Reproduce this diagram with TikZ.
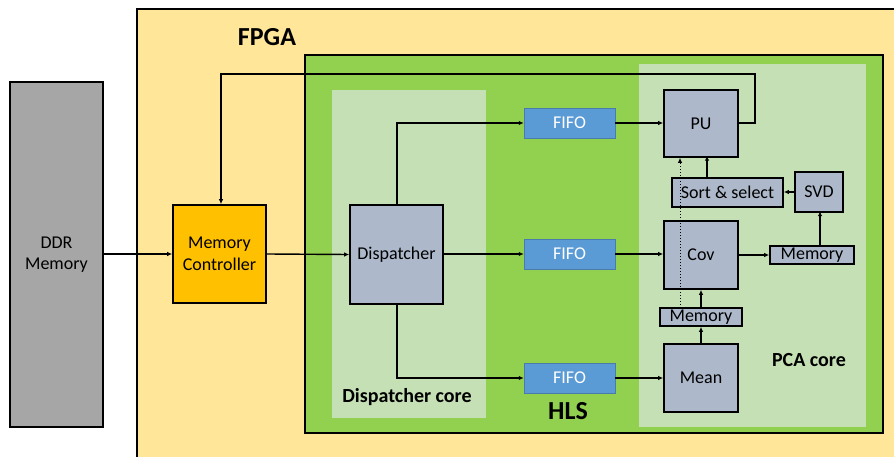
\documentclass[tikz,border=0pt]{standalone}
\usepackage{fontspec}
\setmainfont{Carlito}
\usetikzlibrary{arrows.meta}
\definecolor{fpgay}{HTML}{FFE699}
\definecolor{hlsg}{HTML}{92D050}
\definecolor{lightg}{HTML}{C5E0B4}
\definecolor{blk}{HTML}{ADB9CA}
\definecolor{fifob}{HTML}{5B9BD5}
\definecolor{mcor}{HTML}{FFC000}
\definecolor{ddrg}{HTML}{A6A6A6}
\tikzset{
  blockbox/.style={draw=black, line width=1.6pt, fill=blk, inner sep=0pt, font=\fontsize{18}{20}\selectfont},
  fifobox/.style={fill=fifob, draw=fifob!80!black, line width=0.5pt, inner sep=0pt, text=white, font=\fontsize{18}{20}\selectfont},
  conn/.style={line width=1.4pt, -{Latex[length=5pt,width=4.5pt]}},
  biglabel/.style={font=\bfseries\fontsize{20}{22}\selectfont},
}
\begin{document}
\begin{tikzpicture}[x=1pt,y=-1pt]
\useasboundingbox (0,0) rectangle (894,457);
% FPGA
\draw[fill=fpgay, line width=1.6pt] (137,9) rectangle (900,465);
\node[font=\bfseries\fontsize{26}{28}\selectfont] (fpga) at (267,37) {FPGA};
% HLS
\draw[fill=hlsg, line width=2.6pt] (305,55) rectangle (883,433);
\fill[lightg] (332,90) rectangle (486,418);
\fill[lightg] (639,64) rectangle (866,427);
\node[font=\bfseries\fontsize{26}{28}\selectfont] (hls) at (568,411) {HLS};
\node[biglabel] (dcl) at (407,397) {Dispatcher core};
\node[biglabel] (pcl) at (809,360) {PCA core};
% DDR
\node[draw=black, line width=1.6pt, fill=ddrg, minimum width=93pt, minimum height=345pt, inner sep=0pt, align=center, font=\fontsize{18}{21}\selectfont] (ddr) at (56.5,254.5) {DDR\\Memory};
% Memory controller
\node[draw=black, line width=1.6pt, fill=mcor, minimum width=93pt, minimum height=98pt, inner sep=0pt, align=center, font=\fontsize{18}{22}\selectfont] (mc) at (219.5,254) {Memory\\Controller};
% Dispatcher
\node[blockbox, minimum width=93pt, minimum height=99pt] (disp) at (396.5,254.5) {Dispatcher};
% FIFOs
\node[fifobox, minimum width=91pt, minimum height=30pt] (f1) at (569.5,123) {FIFO};
\node[fifobox, minimum width=91pt, minimum height=30pt] (f2) at (569.5,254) {FIFO};
\node[fifobox, minimum width=91pt, minimum height=30pt] (f3) at (569.5,378) {FIFO};
% PCA blocks
\node[blockbox, minimum width=74pt, minimum height=67pt] (pu) at (701,123.5) {PU};
\node[blockbox, minimum width=111pt, minimum height=29pt] (sort) at (727.5,192.5) {Sort \& select};
\node[blockbox, minimum width=48pt, minimum height=40pt] (svd) at (819,192) {SVD};
\node[blockbox, minimum width=74pt, minimum height=68pt] (cov) at (701,255) {Cov};
\node[blockbox, minimum width=84pt, minimum height=18pt] (memr) at (812,255) {Memory};
\node[blockbox, minimum width=82pt, minimum height=18pt] (meml) at (701,317) {Memory};
\node[blockbox, minimum width=74pt, minimum height=68pt] (mean) at (701,378) {Mean};
% connectors
\coordinate (fb1) at (755,123);
\coordinate (fb2) at (755,74);
\coordinate (fb3) at (221,74);
\draw[conn] (pu.east |- fb1) -- (fb1) -- (fb2) -- (fb3) -- (fb3 |- mc.north);
\draw[conn] (ddr.east |- mc.west) -- (mc.west);
\draw[conn] (mc.east) -- (disp.west);
\coordinate (dt) at (397,123);
\coordinate (db) at (397,378);
\draw[conn] (dt |- disp.north) -- (dt) -- (f1.west);
\draw[conn] (disp.east |- f2.west) -- (f2.west);
\draw[conn] (db |- disp.south) -- (db) -- (f3.west);
\draw[conn] (f1.east) -- (pu.west |- f1.east);
\draw[conn] (f2.east) -- (cov.west |- f2.east);
\draw[conn] (f3.east) -- (mean.west |- f3.east);
\draw[conn] (sort.north -| pu.south) ++(6,0) -- ++(0,-21.5);
\draw[conn] (svd.west) -- (sort.east |- svd.west);
\draw[conn] (memr.north -| svd.south) ++(1,0) -- ++(0,-34);
\draw[conn] (cov.east |- memr.west) -- (memr.west);
\draw[conn] (mean.north) -- (meml.south);
\draw[conn] (meml.north) -- (cov.south);
\coordinate (dl) at (680,308);
\draw[line width=1pt, dotted, -{Latex[length=5pt,width=4.5pt]}] (dl) -- (dl |- pu.south);
\end{tikzpicture}
\end{document}
